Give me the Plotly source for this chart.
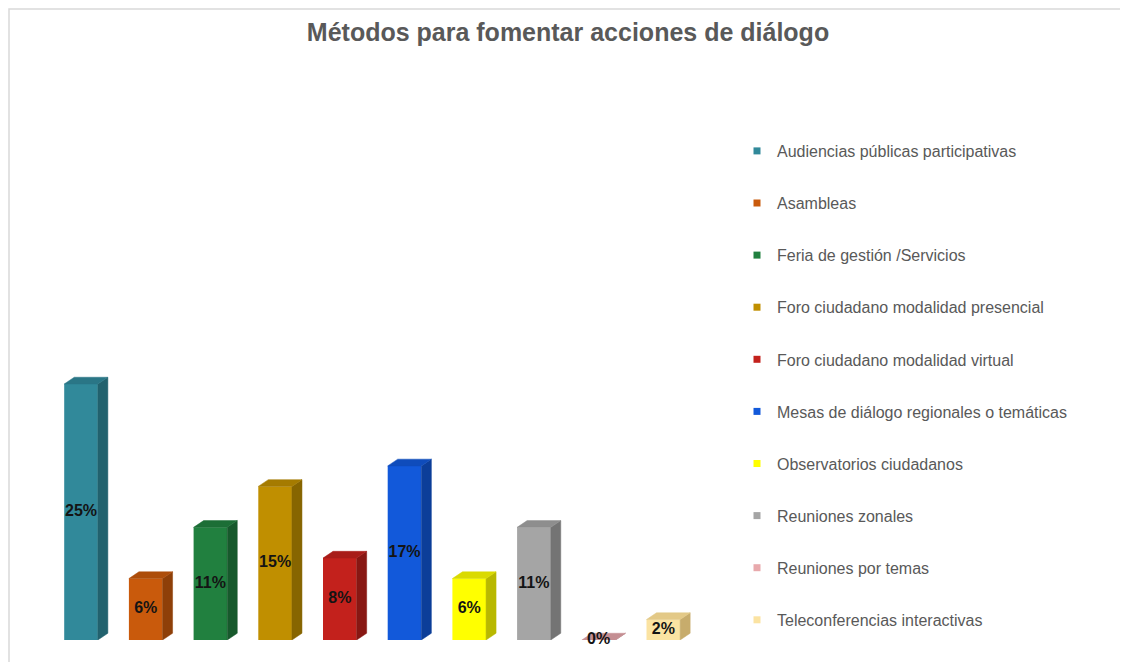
import plotly.graph_objects as go

# ---- data ----
categories = [
    "Audiencias públicas participativas",
    "Asambleas",
    "Feria de gestión /Servicios",
    "Foro ciudadano modalidad presencial",
    "Foro ciudadano modalidad virtual",
    "Mesas de diálogo regionales o temáticas",
    "Observatorios ciudadanos",
    "Reuniones zonales",
    "Reuniones por temas",
    "Teleconferencias interactivas",
]
values = [25, 6, 11, 15, 8, 17, 6, 11, 0, 2]
labels = ["25%", "6%", "11%", "15%", "8%", "17%", "6%", "11%", "0%", "2%"]

front_colors = ["#31899A", "#C95A0C", "#21803F", "#C08F00", "#C3211C",
                "#1259DA", "#FFFF00", "#A5A5A5", "#D9A3A6", "#FBE3A2"]
side_colors = ["#22626E", "#8E3F08", "#17592C", "#876500", "#881713",
               "#0C3E99", "#B8B800", "#747474", "#B07E82", "#C7AC6C"]
top_colors = ["#2A7686", "#AD4D0A", "#1C6E36", "#A57B00", "#A81C18",
              "#0F4CBB", "#DADA00", "#8E8E8E", "#C48E92", "#E3C987"]
legend_colors = ["#31899A", "#C95A0C", "#21803F", "#C08F00", "#C3211C",
                 "#1259DA", "#FFFF00", "#A5A5A5", "#E8A9AC", "#FBE3A2"]

# ---- geometry (page has an 8px body margin) ----
W, H = 1120, 654
L, B = 32, 22
PW, PH = 680, 287
R, T = W - L - PW, H - B - PH
BAR_W = 0.52
DX = 0.155   # depth in x units
DY = 0.66    # depth in y units
YMAX = PH / 10.24
XR = [-0.634, 9.876]

fig = go.Figure()
xs = list(range(len(values)))

for i, (v, c) in enumerate(zip(values, front_colors)):
    fig.add_trace(go.Bar(x=[i], y=[v], width=BAR_W, marker=dict(color=c, line=dict(width=0)),
                         showlegend=False, hoverinfo="skip"))
    x0, x1 = i - BAR_W / 2, i + BAR_W / 2
    # side face
    fig.add_trace(go.Scatter(
        x=[x1, x1 + DX, x1 + DX, x1, x1], y=[0, DY, v + DY, v, 0],
        fill="toself", fillcolor=side_colors[i], mode="lines",
        line=dict(color=side_colors[i], width=0.5), showlegend=False, hoverinfo="skip"))
    # top face
    fig.add_trace(go.Scatter(
        x=[x0, x0 + DX, x1 + DX, x1, x0], y=[v, v + DY, v + DY, v, v],
        fill="toself", fillcolor=top_colors[i], mode="lines",
        line=dict(color=top_colors[i], width=0.5), showlegend=False, hoverinfo="skip"))

# value labels
fig.add_trace(go.Scatter(
    x=xs, y=[v / 2 for v in values], text=labels, mode="text",
    textfont=dict(family="Liberation Sans, Arial", size=16, color="#141414", weight="bold"),
    showlegend=False, hoverinfo="skip", cliponaxis=False))

# legend entries
for i, name in enumerate(categories):
    fig.add_trace(go.Scatter(
        x=[None], y=[None], mode="markers", name=name, legendgroup=str(i),
        marker=dict(symbol="square", size=7, color=legend_colors[i])))

# outer border
fig.add_shape(type="rect", xref="paper", yref="paper",
              x0=(1 - L) / PW, x1=(1117 - L) / PW,
              y0=(B - 700) / PH, y1=(H - B - 1) / PH,
              line=dict(color="#D9D9D9", width=1.5), fillcolor="rgba(0,0,0,0)", layer="below")

fig.update_layout(
    width=W, height=H,
    margin=dict(l=L, r=R, t=T, b=B, autoexpand=False),
    paper_bgcolor="white", plot_bgcolor="white",
    barmode="overlay",
    title=dict(text="<b>Métodos para fomentar acciones de diálogo</b>",
               x=560 / W, xref="container", y=1 - 24 / H, yref="container",
               xanchor="center", yanchor="middle",
               font=dict(family="Liberation Sans, Arial", size=25, color="#595959")),
    xaxis=dict(range=XR, visible=False, fixedrange=True),
    yaxis=dict(range=[0, YMAX], visible=False, fixedrange=True),
    legend=dict(x=729 / W, xref="container", y=1 - 126 / H, yref="container",
                xanchor="left", yanchor="top", traceorder="grouped", tracegroupgap=28.3,
                maxheight=620,
                font=dict(family="Liberation Sans, Arial", size=16, color="#595959"),
                bgcolor="rgba(0,0,0,0)"),
    showlegend=True,
)

fig.write_html("out.html")
